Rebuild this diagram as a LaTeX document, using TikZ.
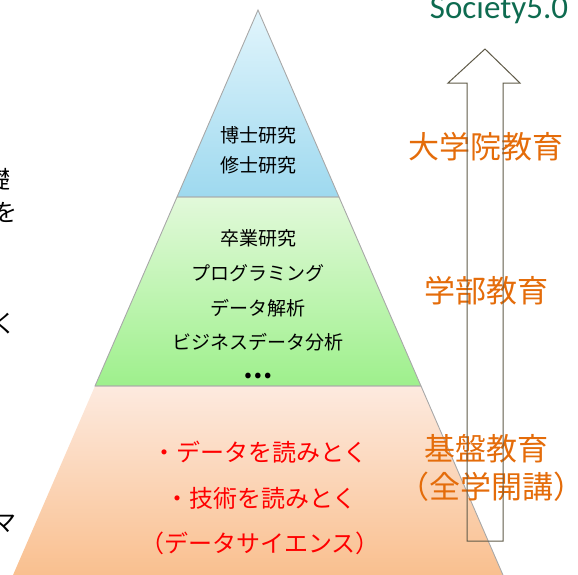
\documentclass[tikz,border=0pt]{standalone}
\usepackage{fontspec}
\newfontfamily\jpfont{Noto Sans CJK JP}
\newfontfamily\jphfont{Noto Sans CJK JP}[RawFeature=+halt]
\newfontfamily\carlfont{Carlito}
\definecolor{edgegray}{HTML}{A8A8A8}
\definecolor{arrowline}{HTML}{5F5A48}
\definecolor{eduorange}{HTML}{E46C0A}
\definecolor{socgreen}{HTML}{0E6B50}
\definecolor{bluetop}{HTML}{E2F5FC}
\definecolor{bluebot}{HTML}{9ED9EF}
\definecolor{greentop}{HTML}{E2F9DA}
\definecolor{greenbot}{HTML}{9EF08C}
\definecolor{orangetop}{HTML}{FDEADF}
\definecolor{orangebot}{HTML}{F9BE8C}
\tikzset{
  band/.style={draw=edgegray, line width=0.9pt},
  inner/.style={font=\jpfont\fontsize{19pt}{19pt}\selectfont, text=black, inner sep=0pt},
  redtxt/.style={font=\jpfont\fontsize{24pt}{24pt}\selectfont, text=red, inner sep=0pt},
  edutxt/.style={font=\jphfont\fontsize{31pt}{31pt}\selectfont, text=eduorange, inner sep=0pt},
  cuttxt/.style={font=\jpfont\fontsize{24pt}{24pt}\selectfont, text=black, inner sep=0pt, anchor=east},
  bigarrow/.style={draw=arrowline, line width=1pt, line join=miter}
}
\begin{document}
\begin{tikzpicture}[x=1pt,y=-1pt]
\useasboundingbox (0,0) rectangle (578,574);
\clip (0,0) rectangle (578,574);
% pyramid bands
\shade[top color=bluetop, bottom color=bluebot] (258,10) -- (339,197) -- (177,197) -- cycle;
\shade[top color=greentop, bottom color=greenbot] (177,197) -- (339,197) -- (421,386) -- (95,386) -- cycle;
\shade[top color=orangetop, bottom color=orangebot] (95,386) -- (421,386) -- (506,582) -- (10,582) -- cycle;
\draw[band] (258,10) -- (339,197) -- (177,197) -- cycle;
\draw[band] (177,197) -- (339,197) -- (421,386) -- (95,386) -- cycle;
\draw[band] (95,386) -- (421,386) -- (506,582) -- (10,582);
% texts in pyramid
\node[inner] (hakase) at (258,135) {博士研究};
\node[inner] (shushi) at (258,165) {修士研究};
\node[inner] (sotsugyo) at (258,238) {卒業研究};
\node[inner] (prog) at (258,273) {プログラミング};
\node[inner] (kaiseki) at (258,308) {データ解析};
\node[inner] (business) at (258,342) {ビジネスデータ分析};
\node[inner, font=\jpfont\bfseries\fontsize{26pt}{26pt}\selectfont] (dots) at (258,376) {…};
\node[redtxt] (red1) at (260,452) {・データを読みとく};
\node[redtxt] (red2) at (261,498) {・技術を読みとく};
\node[redtxt] (red3) at (260,543) {（データサイエンス）};
% cut-off texts on the left
\node[cuttxt] (cut1) at (11,179) {礎};
\node[cuttxt] (cut2) at (18,212) {を};
\node[cuttxt] (cut3) at (17,324) {く};
\node[cuttxt] (cut4) at (17,524) {マ};
% education labels
\node[edutxt] (grad) at (486,147) {大学院教育};
\node[edutxt] (under) at (486,291) {学部教育};
\node[edutxt] (basic) at (486,449) {基盤教育};
\node[edutxt] (basic2) at (491,487) {（全学開講）};
\node[font=\carlfont\fontsize{33pt}{33pt}\selectfont, text=socgreen, inner sep=0pt, anchor=base] (society) at (499,18) {Society5.0};
% big arrow
\draw[bigarrow] (485,49) -- (520,83) -- (503,83) -- (503,541) -- (467,541) -- (467,83) -- (448,83) -- cycle;
\end{tikzpicture}
\end{document}
